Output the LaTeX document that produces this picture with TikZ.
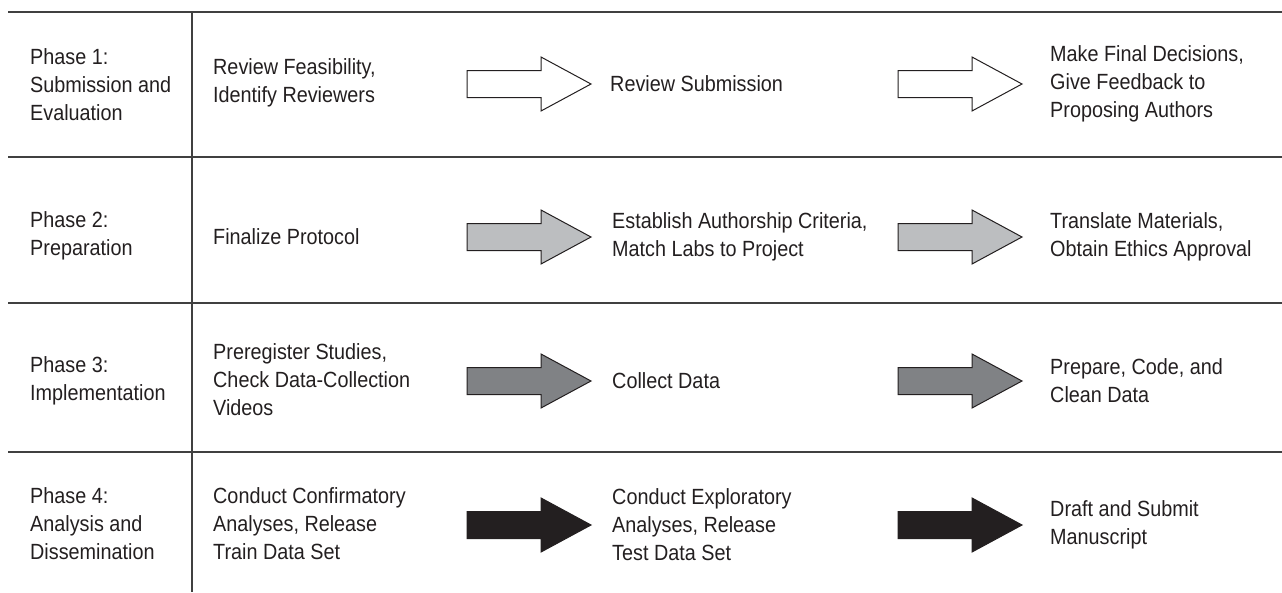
\documentclass[tikz,border=0pt]{standalone}
\usepackage{fontspec}
\setmainfont{Liberation Sans}[FakeStretch=0.9]
\definecolor{ink}{HTML}{231F20}
\definecolor{rule}{HTML}{404040}
\definecolor{lightg}{HTML}{BCBEC0}
\definecolor{midg}{HTML}{808285}
\begin{document}
\begin{tikzpicture}[x=1pt,y=-1pt,
  txt/.style={anchor=west,inner sep=0pt,align=left,text=ink,font=\fontsize{22}{28}\selectfont},
  gridline/.style={draw=rule,line width=1.3pt},
  barrow/.style={draw=ink,line width=1pt,line join=miter}]
\useasboundingbox (0,0) rectangle (1282,592);
% grid
\coordinate (h1l) at (8,12);   \coordinate (h1r) at (1282,12);
\coordinate (h2l) at (8,157);  \coordinate (h2r) at (1282,157);
\coordinate (h3l) at (8,303);  \coordinate (h3r) at (1282,303);
\coordinate (h4l) at (8,452);  \coordinate (h4r) at (1282,452);
\coordinate (vt) at (192,12);  \coordinate (vb) at (192,592);
\draw[gridline] (h1l) -- (h1r);
\draw[gridline] (h2l) -- (h2r);
\draw[gridline] (h3l) -- (h3r);
\draw[gridline] (h4l) -- (h4r);
\draw[gridline] (vt) -- (vb);
% block arrows: \barr{x}{y}{fill}
\newcommand\barr[3]{%
  \draw[barrow,fill=#3] (#1,#2-13.5) -- ++(74,0) -- ++(0,-13.5) -- (#1+124,#2) -- (#1+74,#2+27) -- ++(0,-13.5) -- (#1,#2+13.5) -- cycle;}
\barr{467}{84}{white}
\barr{898}{84}{white}
\barr{467}{237}{lightg}
\barr{898}{237}{lightg}
\barr{467}{381}{midg}
\barr{898}{381}{midg}
\barr{467}{525}{ink}
\barr{898}{525}{ink}
% row 1
\node[txt] (p1) at (30,85) {Phase 1:\\Submission and\\Evaluation};
\node[txt] (a1) at (213,83) {Review Feasibility,\\Identify Reviewers};
\node[txt] (b1) at (610,84) {Review Submission};
\node[txt] (c1) at (1050,84) {Make Final Decisions,\\Give Feedback to\\Proposing Authors};
% row 2
\node[txt] (p2) at (30,236) {Phase 2:\\Preparation};
\node[txt] (a2) at (213,237) {Finalize Protocol};
\node[txt] (b2) at (612,237) {Establish Authorship Criteria,\\Match Labs to Project};
\node[txt] (c2) at (1050,237) {Translate Materials,\\Obtain Ethics Approval};
% row 3
\node[txt] (p3) at (30,381) {Phase 3:\\Implementation};
\node[txt] (a3) at (213,380) {Preregister Studies,\\Check Data-Collection\\Videos};
\node[txt] (b3) at (612,381) {Collect Data};
\node[txt] (c3) at (1050,381) {Prepare, Code, and\\Clean Data};
% row 4
\node[txt] (p4) at (30,524) {Phase 4:\\Analysis and\\Dissemination};
\node[txt] (a4) at (213,524) {Conduct Confirmatory\\Analyses, Release\\Train Data Set};
\node[txt] (b4) at (612,525) {Conduct Exploratory\\Analyses, Release\\Test Data Set};
\node[txt] (c4) at (1050,525) {Draft and Submit\\Manuscript};
\end{tikzpicture}
\end{document}
